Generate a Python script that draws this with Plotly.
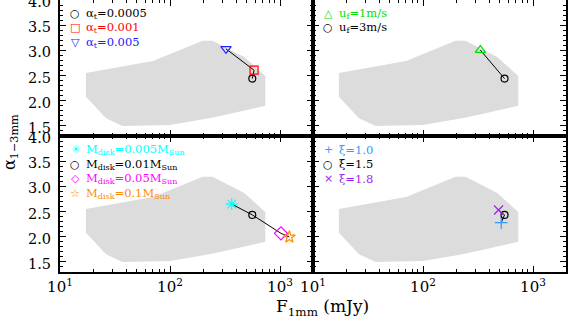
import plotly.graph_objects as go
from plotly.subplots import make_subplots

# ---- data ----
region_flux = [17.2, 70, 198, 244, 473, 735, 735, 240, 100, 37, 26.2, 17.2]
region_alpha = [2.55, 2.79, 3.19, 3.19, 2.87, 2.49, 1.90, 1.66, 1.52, 1.50, 1.65, 2.08]

flux_alpha_t = [560, 581, 323]
a13_alpha_t = [2.44, 2.606, 3.03]
labels_alpha_t = ["α<sub>t</sub>=0.0005", "α<sub>t</sub>=0.001", "α<sub>t</sub>=0.005"]

flux_uf = [332, 551]
a13_uf = [3.006, 2.44]
labels_uf = ["u<sub>f</sub>=1m/s", "u<sub>f</sub>=3m/s"]

flux_mdisk = [364, 560, 1020, 1217]
a13_mdisk = [2.648, 2.434, 2.068, 1.994]
labels_mdisk = ["M<sub>disk</sub>=0.005M<sub>Sun</sub>", "M<sub>disk</sub>=0.01M<sub>Sun</sub>",
                "M<sub>disk</sub>=0.05M<sub>Sun</sub>", "M<sub>disk</sub>=0.1M<sub>Sun</sub>"]

flux_xi = [514, 551, 486]
a13_xi = [2.28, 2.434, 2.53]
labels_xi = ["ξ=1.0", "ξ=1.5", "ξ=1.8"]

xtick_vals = [10, 100, 1000]
xtick_text = ["10<sup>1</sup>", "10<sup>2</sup>", "10<sup>3</sup>"]
xminor_vals = [2, 3, 4, 5, 6, 7, 8, 9, 20, 30, 40, 50, 60, 70, 80, 90,
               200, 300, 400, 500, 600, 700, 800, 900, 2000]
ytick_vals = [1.5, 2.0, 2.5, 3.0, 3.5, 4.0]
ytick_text = ["1.5", "2.0", "2.5", "3.0", "3.5", "4.0"]

# ---- styles ----
panels = [
    (1, 1, flux_alpha_t, a13_alpha_t, labels_alpha_t,
     ["circle-open", "square-open", "triangle-down-open"],
     ["black", "#ff0000", "#2020ff"], [7, 8, 9],
     ["○", "□", "▽"]),
    (1, 2, flux_uf, a13_uf, labels_uf,
     ["triangle-up-open", "circle-open"],
     ["#00e000", "black"], [9, 7],
     ["△", "○"]),
    (2, 1, flux_mdisk, a13_mdisk, labels_mdisk,
     ["asterisk-open", "circle-open", "diamond-open", "star-open"],
     ["#00ffff", "black", "#ff00ff", "#ff8c00"], [10, 7, 10, 9],
     ["✳", "○", "◇", "☆"]),
    (2, 2, flux_xi, a13_xi, labels_xi,
     ["cross-thin-open", "circle-open", "x-thin-open"],
     ["#3399ff", "black", "#9a1ff0"], [9, 7, 9],
     ["+", "○", "×"]),
]

FONT = "DejaVu Serif"

fig = make_subplots(rows=2, cols=2, horizontal_spacing=0, vertical_spacing=0)

row_px = [13.5, 28, 42.5, 57]
for (r, c, fx, fy, labs, syms, cols, sizes, glyphs) in panels:
    fig.add_trace(go.Scatter(x=region_flux, y=region_alpha, mode="lines", fill="toself",
                             fillcolor="#dcdcdc", line=dict(width=0), hoverinfo="skip",
                             showlegend=False), row=r, col=c)
    fig.add_trace(go.Scatter(x=fx, y=fy, mode="lines", line=dict(color="black", width=1),
                             showlegend=False), row=r, col=c)
    for i in range(len(fx)):
        fig.add_trace(go.Scatter(x=[fx[i]], y=[fy[i]], mode="markers",
                                 marker=dict(symbol=syms[i], size=sizes[i],
                                             color=cols[i], line=dict(color=cols[i], width=1.2)),
                                 showlegend=False), row=r, col=c)
    k = (r - 1) * 2 + c
    xd = "x domain" if k == 1 else f"x{k} domain"
    yd = "y domain" if k == 1 else f"y{k} domain"
    for i, lab in enumerate(labs):
        yy = 1 - row_px[i] / 136.0
        fig.add_annotation(xref=xd, yref=yd, x=15 / 253.0, y=yy, text=glyphs[i],
                           showarrow=False, xanchor="center", yanchor="middle",
                           font=dict(family="DejaVu Sans", size=11, color=cols[i]))
        fig.add_annotation(xref=xd, yref=yd, x=24 / 253.0, y=yy, text=lab,
                           showarrow=False, xanchor="left", yanchor="middle",
                           font=dict(family=FONT, size=11.5, color=cols[i]))

for k in range(1, 5):
    r = (k - 1) // 2 + 1
    c = (k - 1) % 2 + 1
    xa = dict(type="log", range=[1, 3.3], showline=True, linecolor="black", linewidth=2,
              mirror="allticks", ticks="inside", ticklen=6, tickwidth=1, tickcolor="black",
              tickvals=xtick_vals, ticktext=xtick_text, showgrid=False, zeroline=False,
              automargin=False, ticklabeloverflow="allow",
              showticklabels=(r == 2), tickfont=dict(family=FONT, size=15, color="black"),
              minor=dict(ticks="inside", ticklen=3, tickcolor="black", tickvals=xminor_vals,
                         showgrid=False))
    ya = dict(range=[1.3, 4.0], showline=True, linecolor="black", linewidth=2,
              mirror="allticks", ticks="inside", ticklen=6, tickwidth=1, tickcolor="black",
              tickvals=ytick_vals, ticktext=ytick_text, showgrid=False, zeroline=False,
              automargin=False, ticklabeloverflow="allow", ticklabelshift=2,
              showticklabels=(c == 1), tickfont=dict(family=FONT, size=14.5, color="black"),
              ticklabelstandoff=4,
              minor=dict(ticks="inside", ticklen=3, tickcolor="black", dtick=0.1,
                         tick0=1.3, showgrid=False))
    fig.update_xaxes(xa, row=r, col=c)
    fig.update_yaxes(ya, row=r, col=c)

fig.add_annotation(xref="paper", yref="paper", x=(322 - 60) / 506.0, y=-35 / 272.0,
                   text="F<sub>1mm</sub> (mJy)", showarrow=False, xanchor="center",
                   yanchor="middle", font=dict(family=FONT, size=17, color="black"))
fig.add_annotation(xref="paper", yref="paper", x=(10 - 60) / 506.0, y=1 - 142 / 272.0,
                   text="α<sub>1−3mm</sub>", showarrow=False, xanchor="center",
                   yanchor="middle", textangle=-90,
                   font=dict(family=FONT, size=16, color="black"))

fig.update_layout(width=569, height=319, margin=dict(l=60, r=3, t=0, b=47),
                  plot_bgcolor="white", paper_bgcolor="white", showlegend=False)

fig.write_html("out.html", config={"displayModeBar": False},
               post_script="document.body.style.margin='0px';")
